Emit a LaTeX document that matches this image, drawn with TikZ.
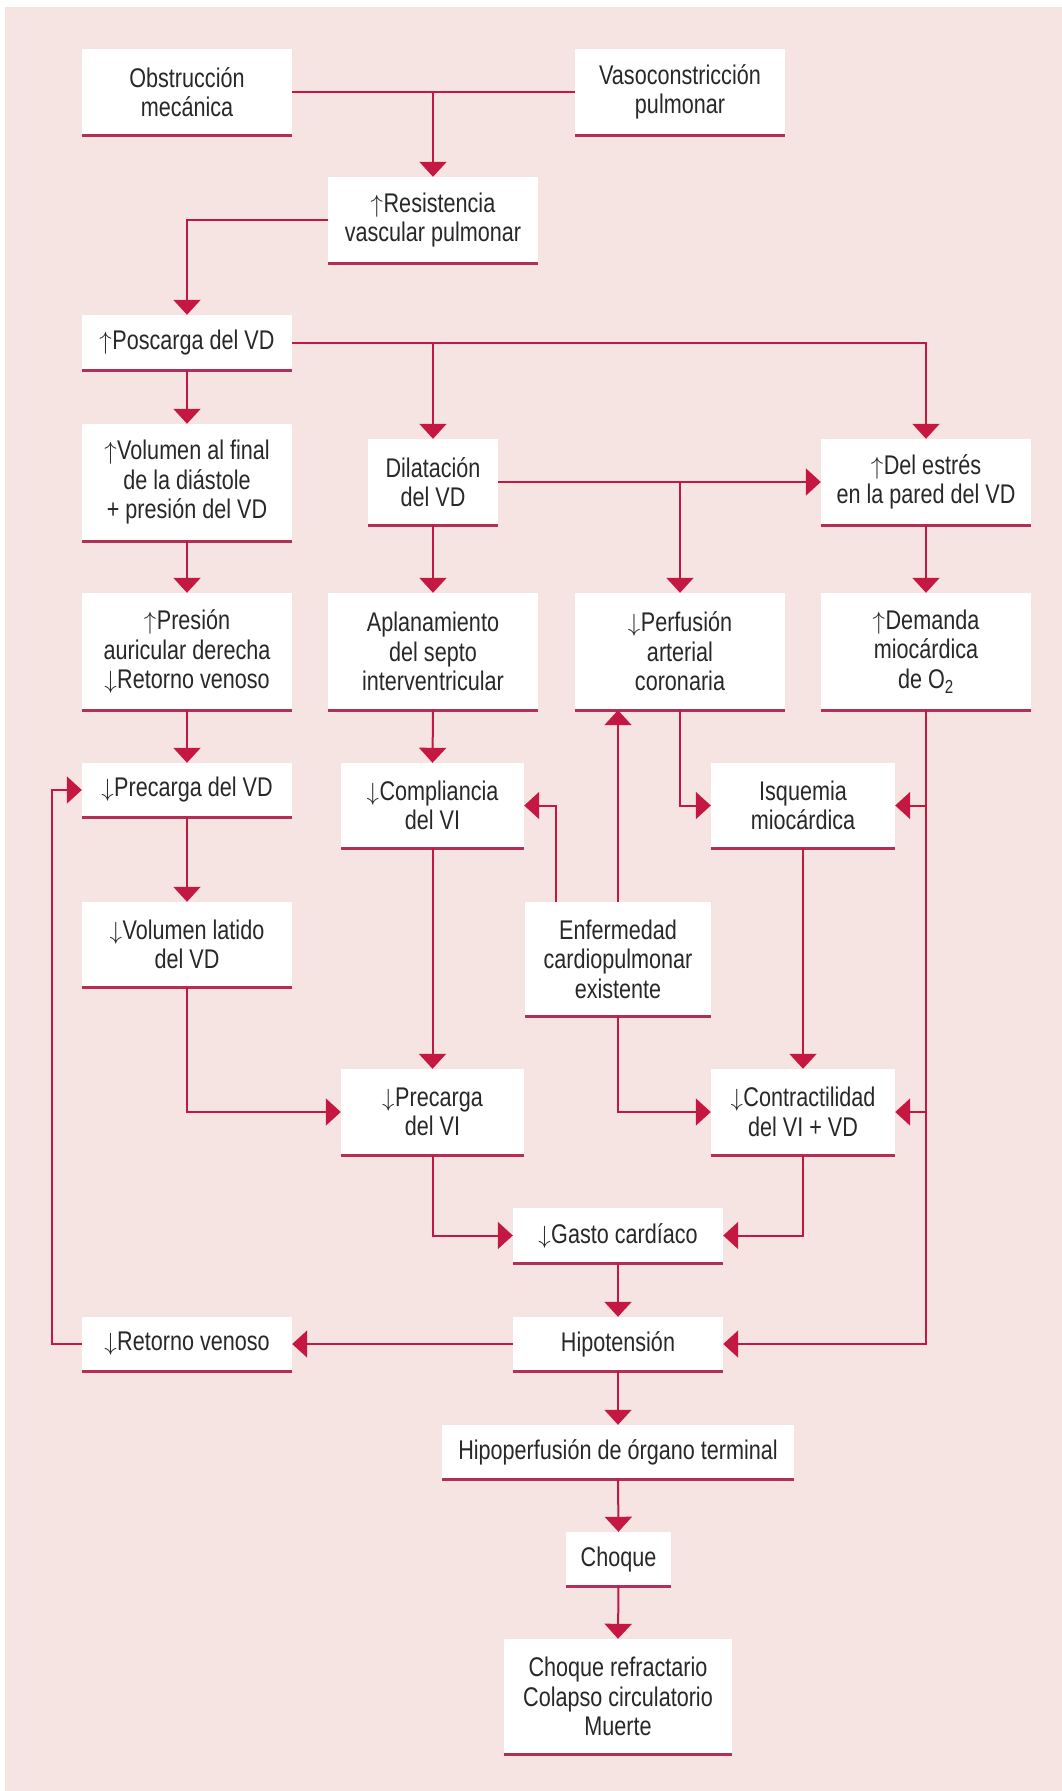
\documentclass[tikz,border=0pt]{standalone}
\usepackage{fontspec}
\setmainfont{Liberation Sans}[FakeStretch=0.8]
\usetikzlibrary{arrows.meta}
\definecolor{bg}{RGB}{245,228,226}
\definecolor{flow}{RGB}{196,24,66}
\definecolor{rulec}{RGB}{178,48,88}
\definecolor{ink}{RGB}{40,40,40}
% thin full-height arrows used in front of the labels
\newcommand\upar{$\uparrow$\kern0.5pt}
\newcommand\dnar{$\downarrow$\kern0.5pt}

\begin{document}
\begin{tikzpicture}[x=1pt,y=-1pt,
  box/.style={fill=white, inner sep=0pt, align=center, text=ink,
    font=\fontsize{27pt}{29.5pt}\selectfont},
  wd/.style={minimum width=#1pt},
  ht/.style={minimum height=#1pt},
  link/.style={draw=flow, line width=2pt, -{Triangle[width=27pt,length=15pt]}},
  plain/.style={draw=flow, line width=2pt},
  baseline rule/.style={draw=rulec, line width=2.6pt}]

% canvas
\useasboundingbox (0,0) rectangle (1062,1791);
\fill[white] (0,0) rectangle (1062,1791);
\fill[bg] (5,7) rectangle (1062,1791);

% boxes
\node[box, wd=210, ht=86]  (obs)    at (187,92)      {Obstrucción\\mecánica};
\node[box, wd=210, ht=86]  (vaso)   at (680,92)      {Vasoconstricción\\pulmonar};
\node[box, wd=210, ht=86]  (res)    at (433,220)     {\upar Resistencia\\vascular pulmonar};
\node[box, wd=210, ht=55]  (pos)    at (187,342.5)   {\upar Poscarga del VD};
\node[box, wd=210, ht=117] (vol)    at (187,482.5)   {\upar Volumen al final\\de la diástole\\+ presión del VD};
\node[box, wd=130, ht=86]  (dil)    at (433,482)     {Dilatación\\del VD};
\node[box, wd=210, ht=86]  (est)    at (926,482)     {\upar Del estrés\\en la pared del VD};
\node[box, wd=210, ht=117] (pres)   at (187,651.5)   {\upar Presión\\auricular derecha\\\dnar Retorno venoso};
\node[box, wd=210, ht=117] (apl)    at (433,651.5)   {Aplanamiento\\del septo\\interventricular};
\node[box, wd=210, ht=117] (perf)   at (680,651.5)   {\dnar Perfusión\\arterial\\coronaria};
\node[box, wd=210, ht=117] (dem)    at (926,651.5)   {\upar Demanda\\miocárdica\\de O\textsubscript{2}};
\node[box, wd=210, ht=54]  (precvd) at (187,790)     {\dnar Precarga del VD};
\node[box, wd=183, ht=85]  (compl)  at (432.5,805.5) {\dnar Compliancia\\del VI};
\node[box, wd=184, ht=85]  (isq)    at (803,805.5)   {Isquemia\\miocárdica};
\node[box, wd=210, ht=85]  (vlat)   at (187,944.5)   {\dnar Volumen latido\\del VD};
\node[box, wd=186, ht=114] (enf)    at (618,959)     {Enfermedad\\cardiopulmonar\\existente};
\node[box, wd=183, ht=86]  (precvi) at (432.5,1112)  {\dnar Precarga\\del VI};
\node[box, wd=184, ht=86]  (contr)  at (803,1112)    {\dnar Contractilidad\\del VI + VD};
\node[box, wd=210, ht=55]  (gasto)  at (618,1235.5)  {\dnar Gasto cardíaco};
\node[box, wd=210, ht=54]  (hip)    at (618,1344)    {Hipotensión};
\node[box, wd=210, ht=54]  (ret)    at (187,1344)    {\dnar Retorno venoso};
\node[box, wd=352, ht=54]  (hipo)   at (618,1452)    {Hipoperfusión de órgano terminal};
\node[box, wd=105, ht=54]  (choq)   at (618.5,1559)  {Choque};
\node[box, wd=228, ht=115] (fin)    at (618,1696.5)  {Choque refractario\\Colapso circulatorio\\Muerte};

% rule under each box
\foreach \n in {obs,vaso,res,pos,vol,dil,est,pres,apl,perf,dem,precvd,compl,isq,
                vlat,enf,precvi,contr,gasto,hip,ret,hipo,choq,fin}
  \draw[baseline rule] (\n.south west) -- (\n.south east);

% connectors
\draw[plain] (obs.east) -- (vaso.west);
\draw[link] (obs.east -| res.north) -- (res.north);
\draw[link] (res.west) -| (pos.north);
\draw[link] (pos.east) -| (est.north);
\draw[link] (pos.east -| dil.north) -- (dil.north);
\draw[link] (pos.south) -- (vol.north);
\draw[link] (dil.east) -- (est.west);
\draw[link] (dil.east -| perf.north) -- (perf.north);
\draw[link] (vol.south) -- (pres.north);
\draw[link] (dil.south) -- (apl.north);
\draw[link] (est.south) -- (dem.north);
\draw[link] (pres.south) -- (precvd.north);
\draw[link] (apl.south) -- (compl.north);
\draw[link] (perf.south) |- (isq.west);
\draw[link] (dem.south) |- (hip.east);
\draw[link] (dem.south |- isq.east) -- (isq.east);
\draw[link] (dem.south |- contr.east) -- (contr.east);
\draw[link] (enf.north) -- (enf.north |- perf.south);
\draw[link] ([xshift=-62pt]enf.north) |- (compl.east);
\draw[link] (precvd.south) -- (vlat.north);
\draw[link] (vlat.south) |- (precvi.west);
\draw[link] (enf.south) |- (contr.west);
\draw[link] (compl.south) -- (precvi.north);
\draw[link] (isq.south) -- (contr.north);
\draw[link] (precvi.south) |- (gasto.west);
\draw[link] (contr.south) |- (gasto.east);
\draw[link] (gasto.south) -- (hip.north);
\draw[link] (hip.west) -- (ret.east);
\draw[link] (ret.west) -- ++(-30,0) |- (precvd.west);
\draw[link] (hip.south) -- (hipo.north);
\draw[link] (hipo.south) -- (choq.north);
\draw[link] (choq.south) -- (fin.north);
\end{tikzpicture}
\end{document}
